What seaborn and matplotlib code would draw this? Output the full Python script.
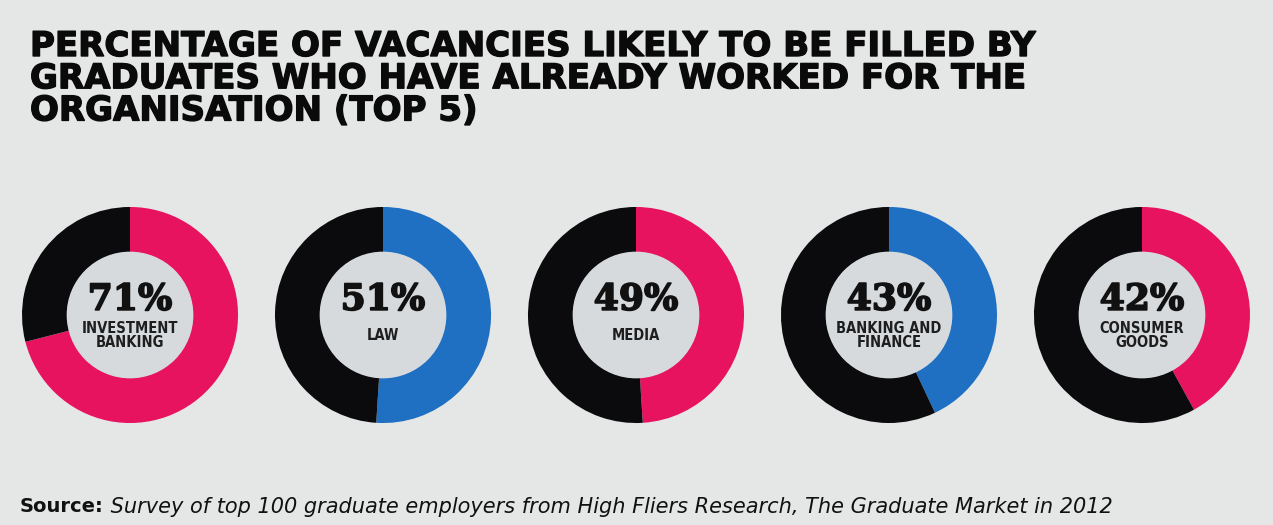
import numpy as np
import pandas as pd
import matplotlib
matplotlib.use("Agg")
import matplotlib.pyplot as plt
import matplotlib.patheffects as pe
import seaborn as sns
from matplotlib.patches import Circle

# data
sectors = ['INVESTMENT\nBANKING', 'LAW', 'MEDIA', 'BANKING AND\nFINANCE', 'CONSUMER\nGOODS']
percent = [71, 51, 49, 43, 42]
accent = ['pink', 'blue', 'pink', 'blue', 'pink']

df = pd.DataFrame({'sector': sectors, 'pct': percent, 'accent': accent})

sns.set_theme(style='white')
bg = '#e5e7e7'
hole = '#d6dadd'
pal = {'pink': '#e8135f', 'blue': '#1f6fc2'}
dark = '#0b0b0d'

fig, axes = plt.subplots(1, 5, figsize=(12.73, 5.25), dpi=100)
fig.patch.set_facecolor(bg)
fig.subplots_adjust(left=22/1273, right=1250/1273, bottom=1-426/525, top=1-204/525, wspace=0.171)

for ax, (_, row) in zip(axes, df.iterrows()):
    ax.set_facecolor(bg)
    ax.pie([row.pct, 100 - row.pct], colors=[pal[row.accent], dark],
           startangle=90, counterclock=False,
           wedgeprops=dict(width=0.42, linewidth=0))
    ax.add_patch(Circle((0, 0), 0.58, color=hole, zorder=3))
    ax.text(0, 0.14, f"{row.pct}%", ha='center', va='center', zorder=4,
            fontsize=26, fontweight='bold', family='DejaVu Serif', color='#111111',
            path_effects=[pe.withStroke(linewidth=1.2, foreground='#111111')])
    ax.text(0, -0.19, row.sector, ha='center', va='center', zorder=4,
            fontsize=10.5, fontweight='bold', family='DejaVu Sans', fontstretch='condensed',
            color='#1e1e1e', linespacing=0.95)
    ax.set_xlim(-1, 1)
    ax.set_ylim(-1, 1)
    ax.set_aspect('equal')
    ax.axis('off')

fig.text(30/1273, 1-30/525,
         "PERCENTAGE OF VACANCIES LIKELY TO BE FILLED BY\n"
         "GRADUATES WHO HAVE ALREADY WORKED FOR THE\n"
         "ORGANISATION (TOP 5)",
         ha='left', va='top', fontsize=24.5, fontweight='heavy',
         family='DejaVu Sans', color='#0a0a0a', linespacing=0.97,
         path_effects=[pe.withStroke(linewidth=1.0, foreground='#0a0a0a')])

src = fig.text(20/1273, 1-507/525, "Source:", ha='left', va='center',
               fontsize=14, fontweight='bold', family='DejaVu Sans', color='#111111')
plt.annotate(" Survey of top 100 graduate employers from High Fliers Research, The Graduate Market in 2012",
             xy=(1, 0.5), xycoords=src, ha='left', va='center', fontsize=15,
             style='italic', family='DejaVu Sans', color='#111111')

fig.savefig('out.png', dpi=100, facecolor=bg)
